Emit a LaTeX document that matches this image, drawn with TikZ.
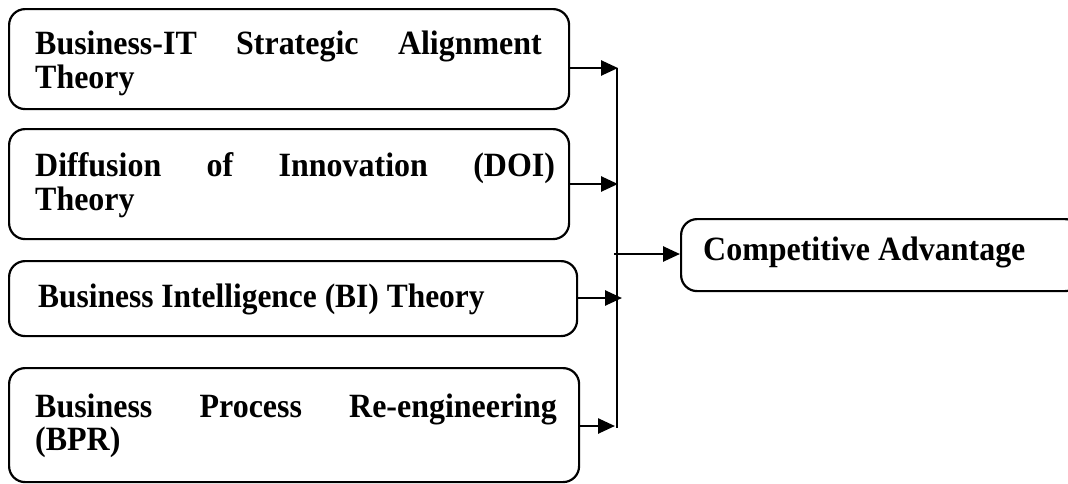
\documentclass[tikz,border=0pt]{standalone}
\usepackage{fontspec}
\setmainfont{Liberation Serif}
\usetikzlibrary{arrows.meta}
% slightly condensed bold lettering
\newcommand{\cond}[1]{\scalebox{0.94}[1]{#1}}
\newcommand{\spread}[2]{\scalebox{0.94}[1]{\makebox[#1][s]{#2}}}
\begin{document}
\begin{tikzpicture}[x=1pt,y=-1pt,
  theorybox/.style={draw, line width=2.2pt, rounded corners=16pt, anchor=north west, inner sep=0pt},
  lbl/.style={font=\fontsize{34}{37}\selectfont\bfseries, inner sep=0pt, anchor=base west},
  arr/.style={line width=2.6pt, -{Triangle[length=17pt,width=15pt]}},
  bar/.style={line width=2.2pt}]
\useasboundingbox (0,0) rectangle (1068,483);

% theory boxes
\node[theorybox, minimum width=560pt, minimum height=100pt] (b1) at (8,8) {};
\node[theorybox, minimum width=560pt, minimum height=110pt] (b2) at (8,128) {};
\node[theorybox, minimum width=568pt, minimum height=75pt] (b3) at (8,260) {};
\node[theorybox, minimum width=570pt, minimum height=114pt] (b4) at (8,367) {};
% outcome box
\node[theorybox, minimum width=400pt, minimum height=72pt] (ca) at (680,218) {};

% box texts
\node[lbl] (t1a) at (35,54) {\spread{539pt}{Business-IT Strategic Alignment}};
\node[lbl] (t1b) at (35,88) {\cond{Theory}};
\node[lbl] (t2a) at (35,176) {\spread{553pt}{Diffusion of Innovation (DOI)}};
\node[lbl] (t2b) at (35,210) {\cond{Theory}};
\node[lbl] (t3) at (38,307) {\scalebox{0.925}[1]{Business Intelligence (BI) Theory}};
\node[lbl] (t4a) at (35,417) {\spread{555pt}{Business Process Re-engineering}};
\node[lbl] (t4b) at (35,450) {\cond{(BPR)}};
\node[lbl] (tca) at (703,260) {\cond{Competitive Advantage}};

% junction points on the collecting bar
\coordinate (j1) at (618,68);
\coordinate (j2) at (618,184);
\coordinate (j3) at (622,298);
\coordinate (j4) at (615,426);
\coordinate (top) at (617,68);
\coordinate (bot) at (617,428);
\coordinate (src) at (614,254);

\draw[bar] (top) -- (bot);
\draw[arr] (b1.east |- j1) -- (j1);
\draw[arr] (b2.east |- j2) -- (j2);
\draw[arr] (b3.east |- j3) -- (j3);
\draw[arr] (b4.east |- j4) -- (j4);
\draw[arr] (src) -- (ca.west |- src);
\end{tikzpicture}
\end{document}
